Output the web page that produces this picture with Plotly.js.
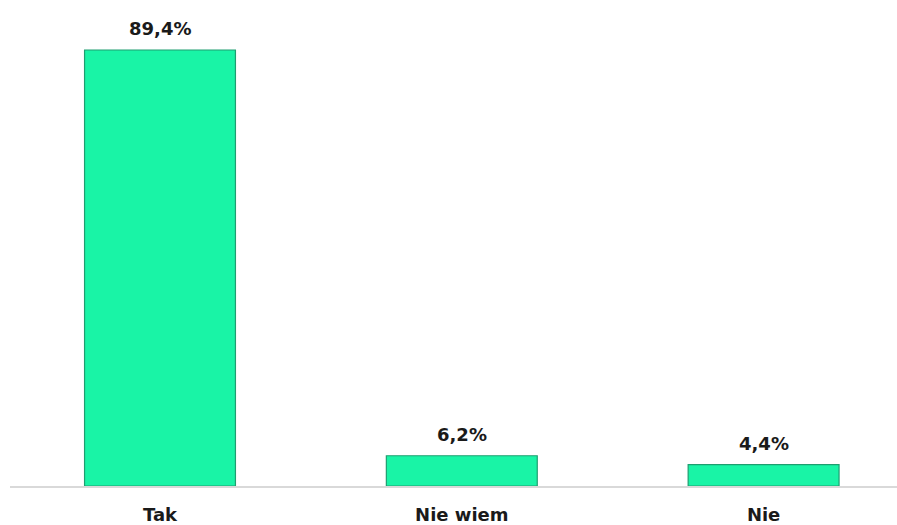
<!DOCTYPE html>
<html>
<head>
<meta charset="utf-8">
<script src="https://cdn.plot.ly/plotly-3.0.1.min.js"></script>
<style>html,body{margin:0;padding:0;background:#fff;}#chart{width:897px;height:525px;}</style>
</head>
<body>
<div id="chart"></div>
<script>
const categories = ['Tak', 'Nie wiem', 'Nie'];
const values = [89.4, 6.2, 4.4];
const valueLabels = values.map(v => v.toFixed(1).replace('.', ',') + '%');

const labelFont = {family: 'DejaVu Sans', size: 18, color: '#1a1a1a', weight: 'bold'};

const trace = {
  type: 'bar',
  x: categories,
  y: values,
  marker: {color: '#19F4A6', line: {color: '#1E9E70', width: 1.2}},
  hoverinfo: 'none'
};

const annotations = categories.map((c, i) => ({
  x: c, y: values[i], xref: 'x', yref: 'y',
  text: valueLabels[i], showarrow: false,
  yanchor: 'bottom', yshift: 9,
  font: labelFont
}));

const layout = {
  width: 897, height: 525,
  margin: {l: 10, r: 0, t: 10, b: 39, autoexpand: false},
  paper_bgcolor: '#ffffff', plot_bgcolor: '#ffffff',
  bargap: 0.5,
  showlegend: false,
  xaxis: {
    range: [-0.497, 2.442], fixedrange: true,
    showline: true, linecolor: '#d9d9d9', linewidth: 2,
    ticks: '', showgrid: false, zeroline: false,
    tickfont: labelFont, ticklabelstandoff: 11, automargin: false
  },
  yaxis: {
    range: [0, 97.6], visible: false, showgrid: false, zeroline: false, fixedrange: true
  },
  annotations: annotations
};

Plotly.newPlot('chart', [trace], layout, {displayModeBar: false, staticPlot: true});
</script>
</body>
</html>
